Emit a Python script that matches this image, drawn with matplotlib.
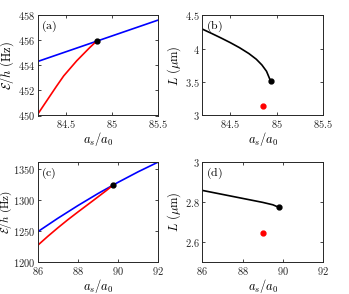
import numpy as np
import matplotlib
matplotlib.use('Agg')
import matplotlib.pyplot as plt
from matplotlib.ticker import FuncFormatter

plt.rcParams['mathtext.fontset'] = 'cm'
plt.rcParams['font.family'] = 'serif'
plt.rcParams['font.serif'] = ['DejaVu Serif']

# panel (a): energy vs a_s/a_0
a_blue_x = [84.2, 85.5]
a_blue_y = [454.3, 457.6]
a_red_x = [84.2, 84.3, 84.4, 84.48, 84.55, 84.62, 84.7, 84.76, 84.81, 84.84]
a_red_y = [450.1, 451.2, 452.3, 453.15, 453.75, 454.35, 454.95, 455.4, 455.75, 455.9]
a_dot = (84.84, 455.9)

# panel (b): size L
b_black_x = [84.2, 84.3, 84.4, 84.5, 84.6, 84.7, 84.78, 84.84, 84.89, 84.935]
b_black_y = [4.29, 4.225, 4.158, 4.088, 4.012, 3.925, 3.84, 3.755, 3.66, 3.51]
b_dot = (84.935, 3.51)
b_red = (84.855, 3.145)

# panel (c)
c_blue_x = [86, 87, 88, 89, 90, 91, 92]
c_blue_y = [1249, 1270.8, 1291.4, 1310.9, 1329.1, 1346.2, 1362]
c_red_x = [86, 86.5, 87, 87.5, 88, 88.5, 89, 89.4, 89.77]
c_red_y = [1227, 1241.5, 1255.3, 1268.5, 1281, 1293.2, 1305.5, 1315.4, 1325]
c_dot = (89.77, 1325)

# panel (d)
d_black_x = [86, 87, 88, 89, 89.5, 89.8]
d_black_y = [2.858, 2.838, 2.818, 2.798, 2.786, 2.773]
d_dot = (89.8, 2.773)
d_red = (89.0, 2.645)

fig = plt.figure(figsize=(3.49, 2.94), dpi=100)
W, H = 349, 294
def rect(l, r, t, b):
    return [l / W, 1 - b / H, (r - l) / W, (b - t) / H]

axa = fig.add_axes(rect(37.7, 158.3, 15, 115.5))
axb = fig.add_axes(rect(202.3, 323.3, 15, 115.5))
axc = fig.add_axes(rect(37.7, 158.3, 162, 262))
axd = fig.add_axes(rect(202.3, 323.3, 162, 262))

fmt = FuncFormatter(lambda v, p: f'${v:g}$')
edge = '#262626'

def style(ax, label):
    ax.tick_params(direction='in', top=True, right=True, length=2.5, width=0.6,
                   labelsize=7.5, colors=edge, pad=2)
    for s in ax.spines.values():
        s.set_linewidth(0.7)
        s.set_color(edge)
    ax.xaxis.set_major_formatter(fmt)
    ax.yaxis.set_major_formatter(fmt)
    ax.set_xlabel(r'$a_s/a_0$', fontsize=9, labelpad=0)
    ax.text(0.03, 0.96, r'$\mathrm{' + label + '}$', transform=ax.transAxes,
            ha='left', va='top', fontsize=8.5)

axa.plot(a_blue_x, a_blue_y, color='blue', lw=1.2)
axa.plot(a_red_x, a_red_y, color='red', lw=1.2)
axa.plot(*a_dot, 'o', color='black', ms=3.5)
axa.set_xlim(84.2, 85.5)
axa.set_ylim(450, 458)
axa.set_xticks([84.5, 85, 85.5])
axa.set_yticks([450, 452, 454, 456, 458])
axa.set_ylabel(r'$\mathcal{E}/h\ \mathrm{(Hz)}$', fontsize=9, labelpad=1)
style(axa, '(a)')

axb.plot(b_black_x, b_black_y, color='black', lw=1.2)
axb.plot(*b_dot, 'o', color='black', ms=3.5)
axb.plot(*b_red, 'o', color='red', ms=3.5)
axb.set_xlim(84.2, 85.5)
axb.set_ylim(3, 4.5)
axb.set_xticks([84.5, 85, 85.5])
axb.set_yticks([3, 3.5, 4, 4.5])
axb.set_ylabel(r'$L\ (\mu\mathrm{m})$', fontsize=9, labelpad=1)
style(axb, '(b)')

axc.plot(c_blue_x, c_blue_y, color='blue', lw=1.2)
axc.plot(c_red_x, c_red_y, color='red', lw=1.2)
axc.plot(*c_dot, 'o', color='black', ms=3.5)
axc.set_xlim(86, 92)
axc.set_ylim(1200, 1362)
axc.set_xticks([86, 88, 90, 92])
axc.set_yticks([1200, 1250, 1300, 1350])
axc.set_ylabel(r'$\mathcal{E}/h\ \mathrm{(Hz)}$', fontsize=8)
axc.yaxis.set_label_coords(-0.195, 0.5)
style(axc, '(c)')

axd.plot(d_black_x, d_black_y, color='black', lw=1.2)
axd.plot(*d_dot, 'o', color='black', ms=3.5)
axd.plot(*d_red, 'o', color='red', ms=3.5)
axd.set_xlim(86, 92)
axd.set_ylim(2.5, 3)
axd.set_xticks([86, 88, 90, 92])
axd.set_yticks([2.6, 2.8, 3])
axd.set_ylabel(r'$L\ (\mu\mathrm{m})$', fontsize=9, labelpad=1)
style(axd, '(d)')

fig.savefig('out.png', dpi=100)
